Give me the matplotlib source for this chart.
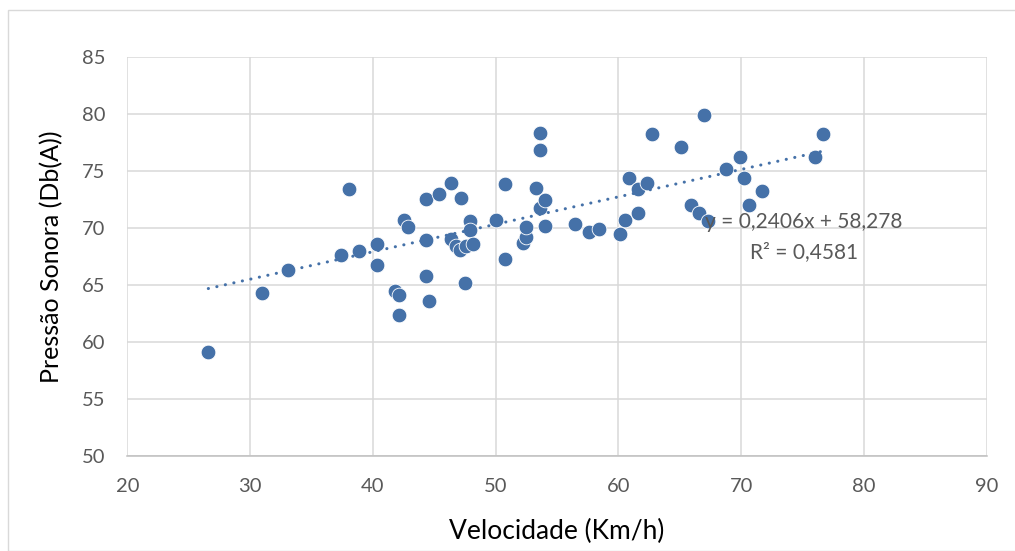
import numpy as np
import matplotlib
matplotlib.use('Agg')
import matplotlib.pyplot as plt
from matplotlib.patches import Rectangle

plt.rcParams['font.family'] = ['Lato', 'DejaVu Sans']

velocidade = [26.6, 31.0, 33.1, 37.4, 38.1, 38.9, 40.3, 40.3, 41.8, 42.1,
              42.1, 42.5, 42.9, 44.3, 44.3, 44.3, 44.6, 45.4, 46.4, 46.4,
              46.8, 47.2, 47.1, 47.5, 47.6, 47.9, 47.9, 48.2, 50.0, 50.8,
              50.8, 52.2, 52.5, 52.5, 53.3, 53.6, 53.6, 53.6, 54.0, 54.0,
              56.5, 57.6, 58.4, 60.1, 60.5, 60.9, 61.6, 61.6, 62.3, 62.7,
              65.1, 65.9, 66.6, 67.0, 67.3, 68.8, 69.9, 70.2, 70.6, 71.7,
              76.0, 76.7]
pressao = [59.1, 64.3, 66.3, 67.6, 73.4, 68.0, 68.6, 66.7, 64.5, 64.1,
           62.4, 70.7, 70.1, 72.5, 68.9, 65.8, 63.6, 73.0, 73.9, 69.0,
           68.4, 72.6, 68.1, 65.2, 68.4, 70.6, 69.8, 68.6, 70.7, 73.8,
           67.3, 68.7, 69.2, 70.1, 73.5, 78.3, 76.8, 71.7, 72.4, 70.2,
           70.3, 69.6, 69.9, 69.5, 70.7, 74.4, 73.4, 71.3, 73.9, 78.2,
           77.1, 72.0, 71.3, 79.9, 70.6, 75.2, 76.2, 74.4, 72.0, 73.2,
           76.2, 78.2]

slope = 0.2406
intercept = 58.278
r2 = 0.4581

blue = '#4571A8'
gray_txt = '#595959'

fig = plt.figure(figsize=(10.15, 5.51), dpi=100)
fig.patches.append(Rectangle((8 / 1015, 0), 1.2, 1 - 10 / 551, transform=fig.transFigure,
                             fill=False, edgecolor='#D9D9D9', linewidth=1))
ax = fig.add_axes([0.1254, 0.1724, 0.8467, 0.7247])

ax.scatter(velocidade, pressao, s=112, color=blue, edgecolor='white',
           linewidth=0.6, zorder=3)

# linear trendline over the data range
xt = np.array([min(velocidade), max(velocidade)])
ax.plot(xt, slope * xt + intercept, color=blue, linewidth=2.2,
        linestyle=(0, (0.05, 2.8)), dash_capstyle='round', zorder=4)

ax.text(75.1, 70.5, 'y = 0,2406x + 58,278', ha='center', va='center',
        fontsize=15, color=gray_txt, zorder=5)
ax.text(75.1, 67.9, 'R² = 0,4581', ha='center', va='center',
        fontsize=15, color=gray_txt, zorder=5)

ax.set_xlim(20, 90)
ax.set_ylim(50, 85)
ax.set_xticks(range(20, 91, 10))
ax.set_yticks(range(50, 86, 5))
ax.grid(True, color='#D9D9D9', linewidth=1.1)
ax.set_axisbelow(True)
for s in ['top', 'right', 'left']:
    ax.spines[s].set_visible(False)
ax.spines['bottom'].set_color('#BFBFBF')
ax.spines['bottom'].set_linewidth(1.1)
ax.tick_params(length=0, labelsize=14.5, colors=gray_txt)
ax.tick_params(axis='x', pad=16)
ax.tick_params(axis='y', pad=16)

ax.set_xlabel('Velocidade (Km/h)', fontsize=19, color='black', labelpad=17)
ax.set_ylabel('Pressão Sonora (Db(A))', fontsize=18, color='black', labelpad=13)

fig.savefig('out.png', dpi=100)
